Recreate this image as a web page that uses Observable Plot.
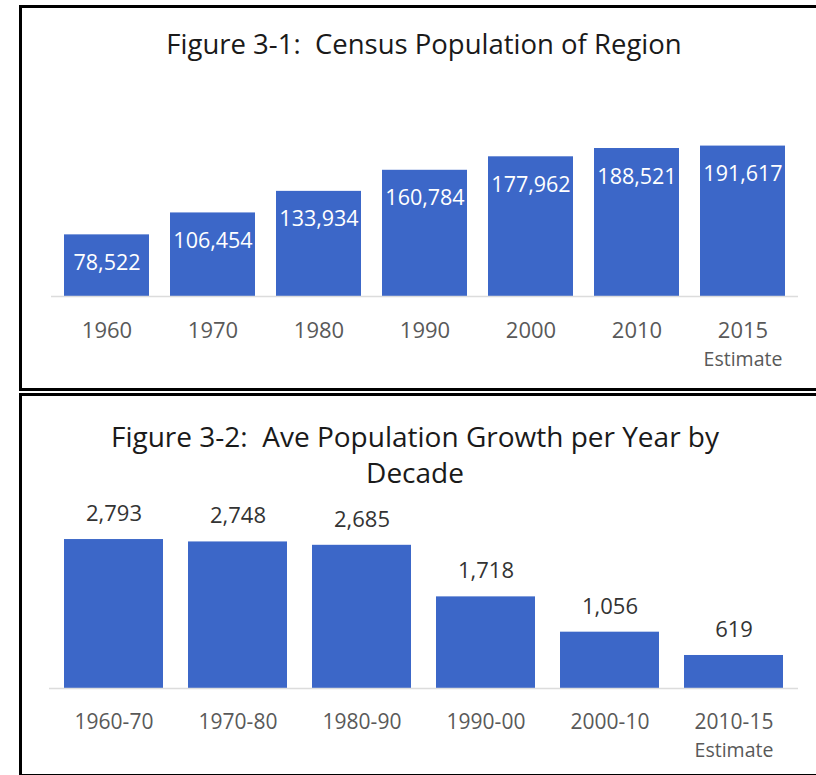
<!DOCTYPE html>
<html>
<head>
<meta charset="utf-8">
<script src="https://cdn.jsdelivr.net/npm/d3@7"></script>
<script src="https://cdn.jsdelivr.net/npm/@observablehq/plot@0.6"></script>
<style>
  html, body { margin: 0; padding: 0; background: #fff; }
  body { position: relative; width: 816px; height: 775px; overflow: hidden; font-family: "Open Sans", sans-serif; }
  .panel { position: absolute; border: 3px solid #000; border-right: none; box-sizing: border-box; background: #fff; }
  .title { position: absolute; text-align: center; line-height: 36px; color: #1a1a1a; white-space: pre; }
  .chart { position: absolute; left: 0; }
</style>
</head>
<body>
<div class="panel" style="left:19px; top:5px; width:797px; height:386px;"></div>
<div class="panel" style="left:19px; top:393px; width:797px; height:384px;"></div>
<div class="title" id="t1" style="left:0; width:848px; top:26px; font-size:27.5px;">Figure 3-1:  Census Population of Region</div>
<div class="title" id="t2" style="left:0; width:830px; top:418px; font-size:28px;">Figure 3-2:  Ave Population Growth per Year by<br>Decade</div>
<div class="chart" id="c1" style="top:90px;"></div>
<div class="chart" id="c2" style="top:500px;"></div>
<script>
// Figure 3-1 data
const years = ["1960", "1970", "1980", "1990", "2000", "2010", "2015"];
const population = [78522, 106454, 133934, 160784, 177962, 188521, 191617];
const yearNotes = ["", "", "", "", "", "", "Estimate"];

// Figure 3-2 data
const decades = ["1960-70", "1970-80", "1980-90", "1990-00", "2000-10", "2010-15"];
const growth = [2793, 2748, 2685, 1718, 1056, 619];
const decadeNotes = ["", "", "", "", "", "Estimate"];

const barColor = "#3c67c8";
const fmt = d3.format(",");
const font = "'Open Sans', sans-serif";

const d1 = years.map((c, i) => ({cat: c, val: population[i], note: yearNotes[i]}));
const d2 = decades.map((c, i) => ({cat: c, val: growth[i], note: decadeNotes[i]}));

const p1 = Plot.plot({
  width: 816,
  height: 290,
  marginLeft: 51,
  marginRight: 18,
  marginTop: 49,
  marginBottom: 84,
  style: {fontFamily: font, background: "transparent", overflow: "visible"},
  x: {domain: years, paddingInner: 0.2, paddingOuter: 0.1, axis: null},
  y: {domain: [0, 200000], axis: null},
  marks: [
    Plot.barY(d1, {x: "cat", y: "val", fill: barColor}),
    Plot.ruleY([0], {stroke: "#dcdcdc", strokeWidth: 1.5}),
    Plot.text(d1, {x: "cat", y: "val", text: d => fmt(d.val), dy: 35, lineAnchor: "bottom", fill: "#ffffff", fontSize: 21.5}),
    Plot.text(d1, {x: "cat", text: "cat", frameAnchor: "bottom", lineAnchor: "bottom", dy: 41, fill: "#595959", fontSize: 22}),
    Plot.text(d1, {x: "cat", text: "note", frameAnchor: "bottom", lineAnchor: "bottom", dy: 69, fill: "#595959", fontSize: 19.5})
  ]
});
document.getElementById("c1").appendChild(p1);

const p2 = Plot.plot({
  width: 816,
  height: 272,
  marginLeft: 49,
  marginRight: 18,
  marginTop: 28,
  marginBottom: 84,
  style: {fontFamily: font, background: "transparent", overflow: "visible"},
  x: {domain: decades, paddingInner: 0.2, paddingOuter: 0.1, axis: null},
  y: {domain: [0, 3000], axis: null},
  marks: [
    Plot.barY(d2, {x: "cat", y: "val", fill: barColor}),
    Plot.ruleY([0], {stroke: "#dcdcdc", strokeWidth: 1.5}),
    Plot.text(d2, {x: "cat", y: "val", text: d => fmt(d.val), dy: -18.5, lineAnchor: "bottom", fill: "#333333", fontSize: 22}),
    Plot.text(d2, {x: "cat", text: "cat", frameAnchor: "bottom", lineAnchor: "bottom", dy: 40, fill: "#595959", fontSize: 21}),
    Plot.text(d2, {x: "cat", text: "note", frameAnchor: "bottom", lineAnchor: "bottom", dy: 68, fill: "#595959", fontSize: 19.5})
  ]
});
document.getElementById("c2").appendChild(p2);
</script>
</body>
</html>
